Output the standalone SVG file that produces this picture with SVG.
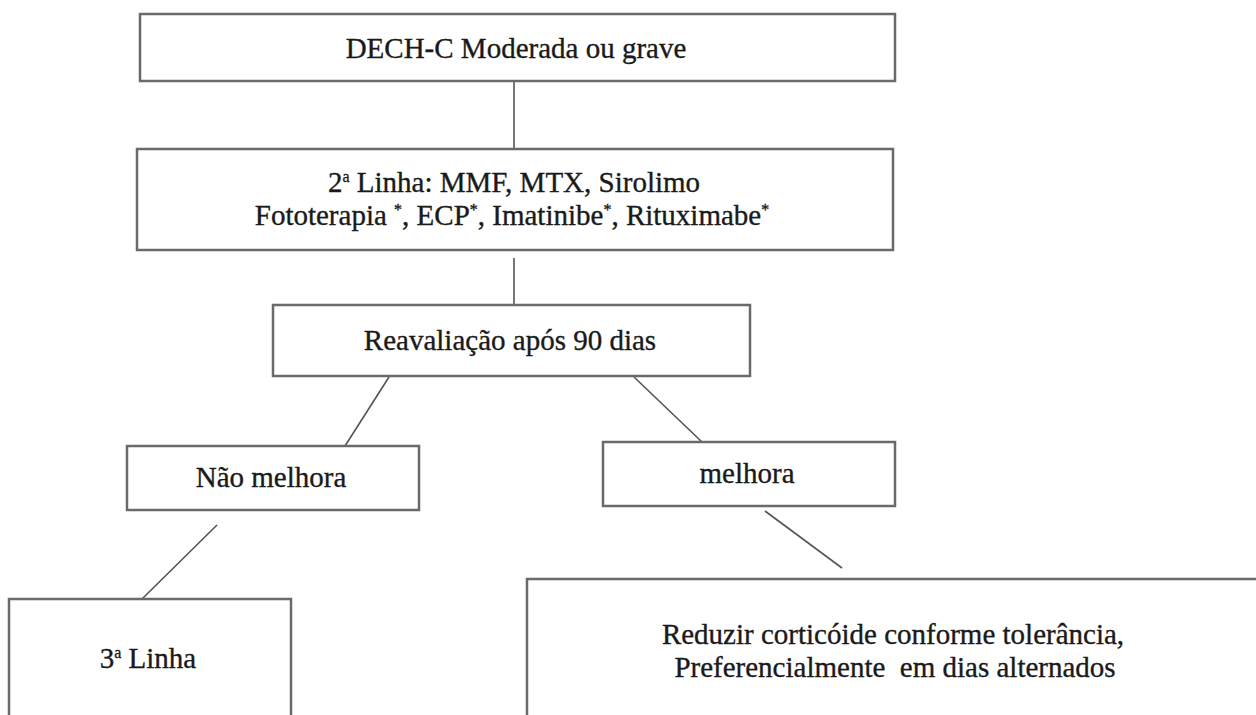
<svg xmlns="http://www.w3.org/2000/svg" width="1256" height="715" viewBox="0 0 1256 715">
  <style>
    .box { fill: #ffffff; stroke: #6a6a6a; stroke-width: 2.5; }
    .lbl { font-family: "Liberation Serif", "Times New Roman", serif; font-size: 29px; fill: #1a1a1a; stroke: #1a1a1a; stroke-width: 0.35; text-anchor: middle; }
    .sup { font-size: 16px; }
    .link { stroke: #555555; stroke-width: 1.6; fill: none; }
  </style>
  <rect width="1256" height="715" fill="#ffffff"/>

  <g id="connectors">
    <line class="link" x1="514" y1="82" x2="514" y2="149"/>
    <line class="link" x1="514" y1="258" x2="514" y2="305"/>
    <line class="link" x1="389" y1="377" x2="345" y2="446"/>
    <line class="link" x1="634" y1="377" x2="702" y2="442"/>
    <line class="link" x1="217" y1="525" x2="142" y2="599"/>
    <line class="link" x1="765" y1="511" x2="842" y2="568"/>
  </g>

  <g id="node-dech">
    <rect class="box" x="140" y="14" width="755" height="67"/>
    <text class="lbl" x="516" y="58">DECH-C Moderada ou grave</text>
  </g>

  <g id="node-segunda-linha">
    <rect class="box" x="137" y="149" width="756" height="101"/>
    <text class="lbl" x="514" y="192">2<tspan class="sup" dy="-10">a</tspan><tspan dy="10"> Linha: MMF, MTX, Sirolimo</tspan></text>
    <text class="lbl" x="512" y="225">Fototerapia <tspan class="sup" dy="-10">*</tspan><tspan dy="10">, ECP</tspan><tspan class="sup" dy="-10">*</tspan><tspan dy="10">, Imatinibe</tspan><tspan class="sup" dy="-10">*</tspan><tspan dy="10">, Rituximabe</tspan><tspan class="sup" dy="-10">*</tspan></text>
  </g>

  <g id="node-reavaliacao">
    <rect class="box" x="273" y="305" width="477" height="71"/>
    <text class="lbl" x="510" y="350">Reavaliação após 90 dias</text>
  </g>

  <g id="node-nao-melhora">
    <rect class="box" x="127" y="446" width="292" height="64"/>
    <text class="lbl" x="271" y="487">Não melhora</text>
  </g>

  <g id="node-melhora">
    <rect class="box" x="603" y="442" width="292" height="64"/>
    <text class="lbl" x="747" y="483">melhora</text>
  </g>

  <g id="node-terceira-linha">
    <rect class="box" x="9" y="599" width="282" height="130"/>
    <text class="lbl" x="148" y="668">3<tspan class="sup" dy="-10">a</tspan><tspan dy="10"> Linha</tspan></text>
  </g>

  <g id="node-reduzir">
    <rect class="box" x="527" y="579" width="740" height="150"/>
    <text class="lbl" x="893" y="644">Reduzir corticóide conforme tolerância,</text>
    <text class="lbl" x="895" y="677" xml:space="preserve">Preferencialmente  em dias alternados</text>
  </g>
</svg>
